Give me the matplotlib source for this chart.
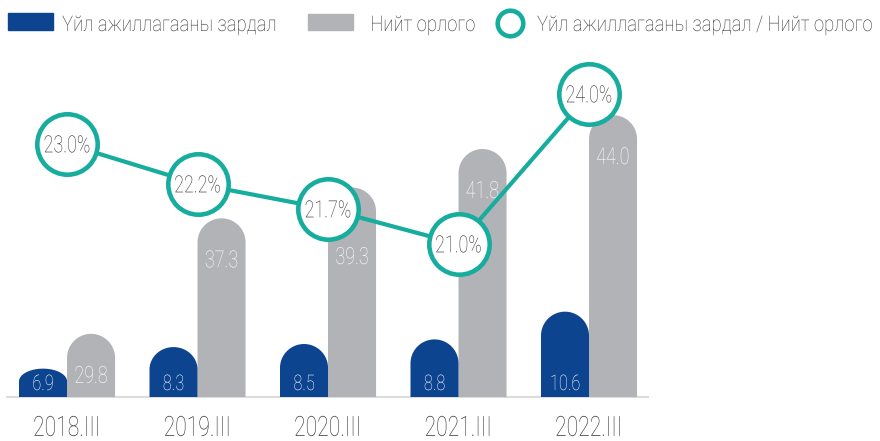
import numpy as np
import matplotlib
matplotlib.use("Agg")
import matplotlib.pyplot as plt
from matplotlib.lines import Line2D
from matplotlib.patches import Polygon, Rectangle
from matplotlib.patheffects import AbstractPathEffect
from matplotlib.transforms import Affine2D

plt.rcParams["font.family"] = ["Roboto", "DejaVu Sans"]
plt.rcParams["font.weight"] = "light"

periods = ["2018.III", "2019.III", "2020.III", "2021.III", "2022.III"]
expenses = [6.9, 8.3, 8.5, 8.8, 10.6]        # Үйл ажиллагааны зардал
net_income = [29.8, 37.3, 39.3, 41.8, 44.0]  # Нийт орлого
ratio = [23.0, 22.2, 21.7, 21.0, 24.0]       # зардал / орлого, %
legend_labels = ["Үйл ажиллагааны зардал", "Нийт орлого",
                 "Үйл ажиллагааны зардал / Нийт орлого"]

BLUE = "#0c4490"
GRAY = "#b2b3b7"
TEAL = "#17ad9e"
TEXT = "#333333"

BAR_W = 0.368
W, H = 880, 441
MARKER_R = 33      # outer radius of the ratio markers, px


class Condense(AbstractPathEffect):
    """Squeeze glyphs horizontally to get a condensed face."""

    def __init__(self, sx=0.76, anchor="center"):
        super().__init__()
        self.sx = sx
        self.anchor = anchor

    def draw_path(self, renderer, gc, tpath, affine, rgbFace=None):
        ext = tpath.get_extents(affine)
        cx = {"left": ext.x0, "center": (ext.x0 + ext.x1) / 2,
              "right": ext.x1}[self.anchor]
        squeeze = Affine2D().translate(-cx, 0).scale(self.sx, 1).translate(cx, 0)
        renderer.draw_path(gc, tpath, affine + squeeze, rgbFace)


COND = [Condense()]
COND_LEG = [Condense(sx=0.86, anchor="left")]


def round_tops(ax, bars, cap_frac=0.45):
    """Replace flat bar rectangles with rounded-top polygons."""
    for rect in bars:
        x, w, h = rect.get_x(), rect.get_width(), rect.get_height()
        p0 = ax.transData.transform((x, 0))
        p1 = ax.transData.transform((x + w, 1))
        half_px = (p1[0] - p0[0]) / 2
        px_per_unit = p1[1] - p0[1]
        bot_px = ax.transData.transform((x, ax.get_ylim()[0]))[1]
        top_px = ax.transData.transform((x, h))[1]
        ry = min(half_px, cap_frac * (top_px - bot_px)) / px_per_unit
        t = np.linspace(np.pi, 0, 60)
        xs = x + w / 2 + w / 2 * np.cos(t)
        ys = h - ry + ry * np.sin(t)
        verts = [(x, 0)] + list(zip(xs, ys)) + [(x + w, 0)]
        ax.add_patch(Polygon(verts, closed=True, fc=rect.get_facecolor(),
                             ec="none", zorder=2))
        rect.remove()


fig = plt.figure(figsize=(W / 100, H / 100), dpi=100)
ax = fig.add_axes([7 / W, 44 / H, 641 / W, 337 / H])
ax_b = ax.twinx()
ax_l = ax.twinx()

x = np.arange(len(periods))
ax.set_xlim(-0.46, 4.452)

# net income (gray) and expenses (blue) on their own value scales
ax.set_ylim(25.7, 47.58)
ax_b.set_ylim(5.06, 26.94)
ax_l.set_ylim(17.94, 24.68)

g_bars = ax.bar(x + BAR_W / 2, net_income, BAR_W, color=GRAY)
b_bars = ax_b.bar(x - BAR_W / 2, expenses, BAR_W, color=BLUE)
round_tops(ax, g_bars)
round_tops(ax_b, b_bars)

# gray labels sit ~40px under the bar top, or drop below a marker in the way
for xi, v, r in zip(x, net_income, ratio):
    lx, ly = ax.transData.transform((xi + BAR_W / 2, v))
    ly -= 40
    mx, my = ax_l.transData.transform((xi, r))
    nx = np.clip(mx, lx - 14, lx + 14)
    ny = np.clip(my, ly - 9, ly + 9)
    if np.hypot(mx - nx, my - ny) < MARKER_R + 8:
        ly = my - MARKER_R - 13
    lx, ly = ax.transData.inverted().transform((lx, ly))
    ax.text(lx, ly, f"{v:.1f}", ha="center", va="center_baseline",
            color="white", fontsize=17, zorder=3, path_effects=COND)

for xi, v in zip(x, expenses):
    ax_b.annotate(f"{v:.1f}", xy=(xi - BAR_W / 2, 0),
                  xycoords=("data", "axes fraction"), xytext=(0, 5),
                  textcoords="offset points", ha="center", va="baseline",
                  color="white", fontsize=15.5, zorder=3, path_effects=COND)

# baseline
ax.axhline(ax.get_ylim()[0], color="#dcdcdc", lw=1.5, zorder=1, clip_on=False)

# ratio line with circle markers
ax_l.plot(x, ratio, color=TEAL, lw=3, marker="o", ms=43.5, mfc="white",
          mec=TEAL, mew=3.3, zorder=4, clip_on=False)
for xi, v in zip(x, ratio):
    ax_l.annotate(f"{v:.1f}%", xy=(xi, v), xytext=(0, -6),
                  textcoords="offset points", ha="center", va="baseline",
                  fontsize=17, color=TEXT, zorder=5, annotation_clip=False,
                  path_effects=COND)

for a in (ax, ax_b, ax_l):
    for s in a.spines.values():
        s.set_visible(False)
    a.set_yticks([])
    a.set_xticks([])

# period labels under the groups
for xi, p in zip(x, periods):
    ax.annotate(p, xy=(xi, 0), xycoords=("data", "axes fraction"),
                xytext=(0, -28), textcoords="offset points", ha="center",
                va="baseline", fontsize=20, color=TEXT, annotation_clip=False,
                path_effects=COND)

# legend row
fig.add_artist(Rectangle((8 / W, 1 - 30 / H), 45 / W, 17 / H,
                         transform=fig.transFigure, color=BLUE))
fig.add_artist(Rectangle((308 / W, 1 - 30 / H), 45 / W, 16 / H,
                         transform=fig.transFigure, color=GRAY))
fig.add_artist(Line2D([510 / W], [1 - 23 / H], transform=fig.transFigure,
                      ls="none", marker="o", ms=18.4, mfc="white", mec=TEAL,
                      mew=3.3))
for lx, lab in zip([62, 370, 537], legend_labels):
    fig.text(lx / W, 1 - 31 / H, lab, ha="left", va="baseline", fontsize=15.5,
             color=TEXT, path_effects=COND_LEG)

fig.savefig("out.png", dpi=100)
